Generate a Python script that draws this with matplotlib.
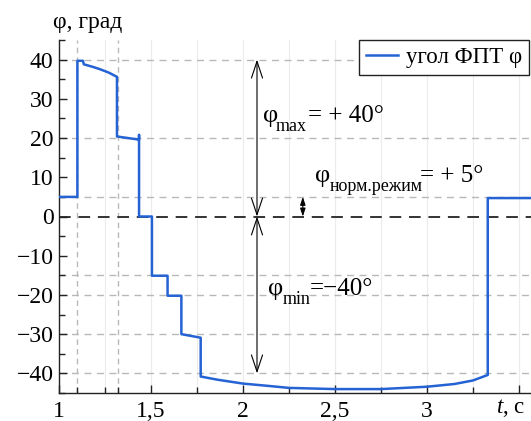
import matplotlib
matplotlib.use('Agg')
import matplotlib.pyplot as plt
from matplotlib.ticker import FixedLocator, FixedFormatter
from matplotlib.transforms import IdentityTransform

# ---- data ----
t = [1.0, 1.1, 1.1, 1.13, 1.135, 1.18, 1.22, 1.27, 1.315, 1.315, 1.375, 1.435,
     1.435, 1.435, 1.505, 1.505, 1.59, 1.59, 1.665, 1.665, 1.77, 1.77, 1.86,
     2.0, 2.14, 2.25, 2.5, 2.75, 3.0, 3.15, 3.25, 3.33, 3.33, 3.56]
phi = [5, 5, 39.7, 39.7, 38.8, 38.2, 37.6, 36.7, 35.6, 20.4, 20.0, 19.6,
       20.8, 0, 0, -15.1, -15.1, -20.2, -20.2, -30.0, -30.9, -40.8, -41.6,
       -42.6, -43.2, -43.7, -44.0, -44.0, -43.4, -42.7, -41.8, -40.4, 4.7, 4.7]

x_major = [1, 1.5, 2, 2.5, 3, 3.5]
x_labels = ['1', '1,5', '2', '2,5', '3', '']
x_minor = [1.1, 1.25, 1.32, 1.75, 2.25, 2.75, 3.25]
y_major = [-40, -30, -20, -10, 0, 10, 20, 30, 40]
y_minor = [-45, -35, -25, -15, -5, 5, 15, 25, 35, 45]
h_dash = [40, 20, 5, -15, -20, -30, -40]
v_dash = [1.1, 1.32]
v_grid = [1.25, 1.5, 1.75, 2.0, 2.25, 2.5, 2.75, 3.0, 3.25, 3.5]

series_label = 'угол ФПТ φ'
phi_max, phi_norm, phi_min = 40, 5, -40

plt.rcParams['font.family'] = ['Liberation Serif', 'DejaVu Serif']
plt.rcParams['mathtext.fontset'] = 'custom'
plt.rcParams['mathtext.rm'] = 'Liberation Serif'
plt.rcParams['mathtext.it'] = 'Liberation Serif:italic'

W, H = 531, 421
fig = plt.figure(figsize=(W/100, H/100), dpi=100)
ax = fig.add_axes([59/W, 28/H, 1 - 59/W, (393 - 40)/H])
ax.set_xlim(1, 3.565)
ax.set_ylim(-45, 45)

for x in v_grid:
    ax.axvline(x, color='#ececec', lw=0.8, zorder=0)
for x in v_dash:
    ax.axvline(x, color='#b8b8b8', lw=1.0, ls=(0, (4, 3)), zorder=1)
for y in h_dash:
    ax.axhline(y, color='#b8b8b8', lw=1.0, ls=(0, (5, 4)), zorder=1)
ax.axhline(0, color='#333333', lw=1.4, ls=(0, (6, 4)), zorder=1)

ax.plot(t, phi, color='#2563d4', lw=1.8, label=series_label, zorder=3)

for s in ['top', 'right']:
    ax.spines[s].set_visible(False)
for s in ['left', 'bottom']:
    ax.spines[s].set_linewidth(1.0)
    ax.spines[s].set_color('#222222')

ax.xaxis.set_major_locator(FixedLocator(x_major))
ax.xaxis.set_major_formatter(FixedFormatter(x_labels))
ax.xaxis.set_minor_locator(FixedLocator(x_minor))
ax.yaxis.set_major_locator(FixedLocator(y_major))
ax.yaxis.set_minor_locator(FixedLocator(y_minor))
ax.tick_params(which='both', direction='in', color='#222222', width=1.0,
               labelsize=17)
ax.tick_params(which='major', length=5.5)
ax.tick_params(which='minor', length=4)
ax.tick_params(axis='x', pad=6)
ax.tick_params(axis='y', pad=4)

# arrows
xa = 2.076
big = dict(arrowstyle='<->,head_length=0.75,head_width=0.25', lw=0.8,
           color='black', shrinkA=0, shrinkB=0, mutation_scale=16)
ax.annotate('', xy=(xa, phi_max), xytext=(xa, 0), arrowprops=big)
ax.annotate('', xy=(xa, phi_min), xytext=(xa, 0), arrowprops=big)
small = dict(arrowstyle='<|-|>,head_length=0.3,head_width=0.1', lw=0.8,
             color='black', shrinkA=0, shrinkB=0, mutation_scale=16)
ax.annotate('', xy=(2.325, phi_norm), xytext=(2.325, 0), arrowprops=small)

# annotation labels (pieces placed in pixel positions)
idt = IdentityTransform()


def label(x_phi, x_sub, x_eq, base, sub, rest):
    fig.text(x_phi, H - base, 'φ', fontsize=19, va='baseline', ha='left',
             transform=idt)
    fig.text(x_sub, H - base - 9, sub, fontsize=13, va='baseline',
             ha='left', transform=idt)
    fig.text(x_eq, H - base, rest, fontsize=18, va='baseline', ha='left',
             transform=idt)


label(263, 276, 308, 122, 'max', '= + 40°')
label(315, 330, 420, 182, 'норм.режим', '= + 5°')
label(268, 283, 310, 295, 'min', '=−40°')

leg = ax.legend(loc='upper right', bbox_to_anchor=(529/W, (H - 40)/H),
                bbox_transform=fig.transFigure, borderaxespad=0,
                fancybox=False, framealpha=1, edgecolor='#222222',
                fontsize=16.5, handlelength=1.4, handletextpad=0.35,
                borderpad=0.3)
leg.get_frame().set_linewidth(1.0)

fig.text(53/W, (H - 28)/H, 'φ, град', fontsize=17, va='baseline',
         ha='left')
fig.text(0.99, 8/H, r'$\mathit{t}$, с', fontsize=16.5, va='baseline',
         ha='right')

fig.savefig('out.png', dpi=100)
